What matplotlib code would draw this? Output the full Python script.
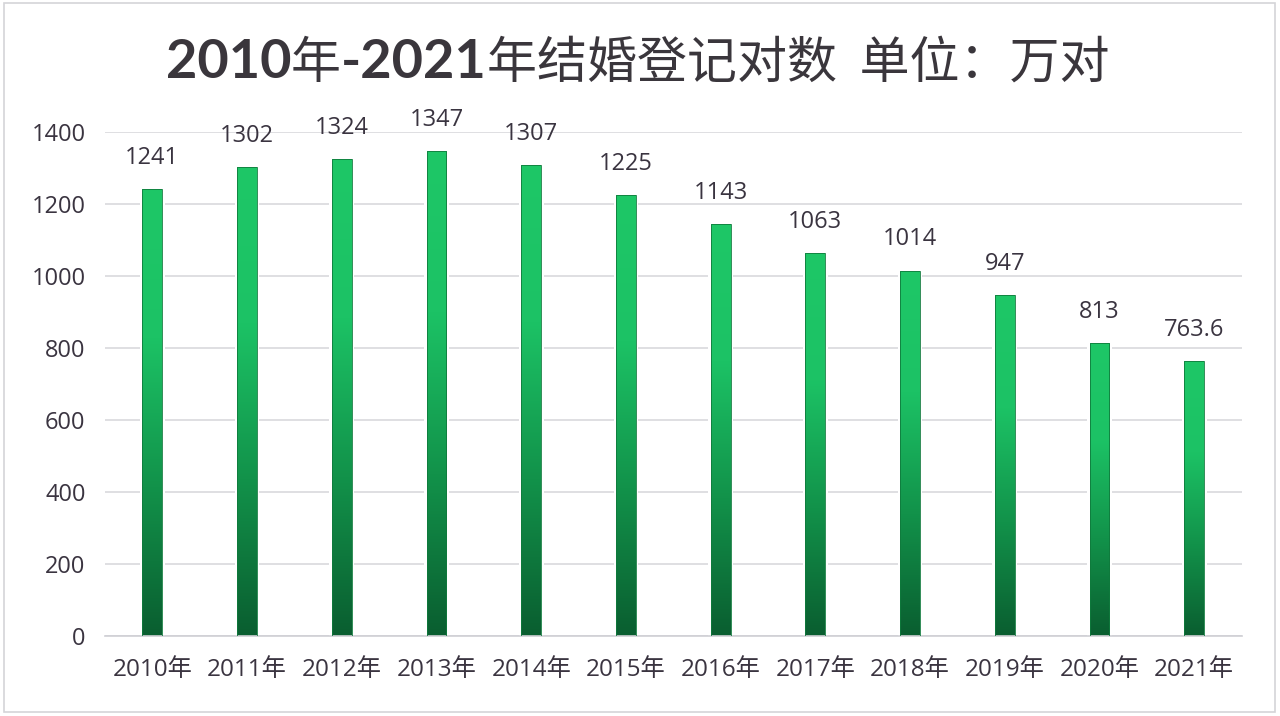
import matplotlib
matplotlib.use("Agg")
import matplotlib.pyplot as plt
import numpy as np
from matplotlib.colors import LinearSegmentedColormap
from matplotlib.offsetbox import TextArea, HPacker, AnchoredOffsetbox
from matplotlib.patches import Rectangle

years = ["2010年", "2011年", "2012年", "2013年", "2014年", "2015年",
         "2016年", "2017年", "2018年", "2019年", "2020年", "2021年"]
values = [1241, 1302, 1324, 1347, 1307, 1225, 1143, 1063, 1014, 947, 813, 763.6]
value_labels = ["1241", "1302", "1324", "1347", "1307", "1225", "1143",
                "1063", "1014", "947", "813", "763.6"]
yticks = [0, 200, 400, 600, 800, 1000, 1200, 1400]

FONT = ["Open Sans", "Noto Sans CJK SC", "DejaVu Sans"]
TXT = "#3a3440"

fig = plt.figure(figsize=(12.8, 7.16), dpi=100)
fig.patch.set_facecolor("white")
fig.add_artist(Rectangle((0.003, 0.006), 0.993, 0.99, transform=fig.transFigure,
                         fill=False, edgecolor="#d4d4d8", linewidth=1.2))

ax = fig.add_axes([0.082, 0.1117, 0.888, 0.704])
x = np.arange(len(years))
bars = ax.bar(x, values, width=0.21, color="none", edgecolor="#0f7a3c",
              linewidth=0.6, zorder=3)

cmap = LinearSegmentedColormap.from_list("g", ["#0a5e30", "#12924a", "#1cc265", "#1ec767"])
grad = np.linspace(0, 1, 256).reshape(-1, 1)
for b in bars:
    bx, bw, bh = b.get_x(), b.get_width(), b.get_height()
    ax.add_patch(Rectangle((bx - bw * 0.12, 0), bw * 1.24, bh, facecolor="white",
                           edgecolor="none", zorder=2))
    im = ax.imshow(grad, extent=[bx, bx + bw, 0, bh], origin="lower", cmap=cmap,
                   aspect="auto", zorder=2.5, interpolation="bicubic")
    im.set_clip_path(b)

for xi, v, lab in zip(x, values, value_labels):
    ax.annotate(lab, (xi, v), xytext=(0, 14), textcoords="offset points",
                ha="center", va="bottom", fontsize=17, color=TXT,
                family=FONT, annotation_clip=False, zorder=5)

ax.set_xlim(-0.5, len(years) - 0.5)
ax.set_ylim(0, 1400)
ax.set_yticks(yticks)
ax.set_yticklabels([str(t) for t in yticks], family=FONT, fontsize=17, color=TXT)
ax.set_xticks(x)
ax.set_xticklabels(years, family=FONT, fontsize=17.5, color=TXT)
ax.tick_params(axis="both", length=0)
ax.tick_params(axis="y", pad=14)
ax.tick_params(axis="x", pad=16)
for s in ["top", "right", "left"]:
    ax.spines[s].set_visible(False)
ax.spines["bottom"].set_color("#cfcfd4")
ax.spines["bottom"].set_linewidth(1.2)
ax.yaxis.grid(True, color="#d6d6da", linewidth=1.1, zorder=0)
ax.set_axisbelow(True)

# Title with bold digits and regular CJK characters
tcolor = "#3a363c"
bold = dict(family=["Lato", "Noto Sans CJK SC"], fontweight="bold", fontsize=39, color=tcolor)
reg = dict(family=["Noto Sans CJK SC", "DejaVu Sans"], fontweight="normal", fontsize=36, color=tcolor)
parts = [("2010", bold), ("年", reg), ("-2021", bold), ("年结婚登记对数  单位：万对", reg)]
boxes = [TextArea(t, textprops=p) for t, p in parts]
pack = HPacker(children=boxes, align="baseline", pad=0, sep=0)
anch = AnchoredOffsetbox(loc="center", child=pack, frameon=False,
                         bbox_to_anchor=(0.498, 0.911), bbox_transform=fig.transFigure,
                         borderpad=0, pad=0)
fig.add_artist(anch)

fig.savefig("out.png", dpi=100, facecolor="white")
